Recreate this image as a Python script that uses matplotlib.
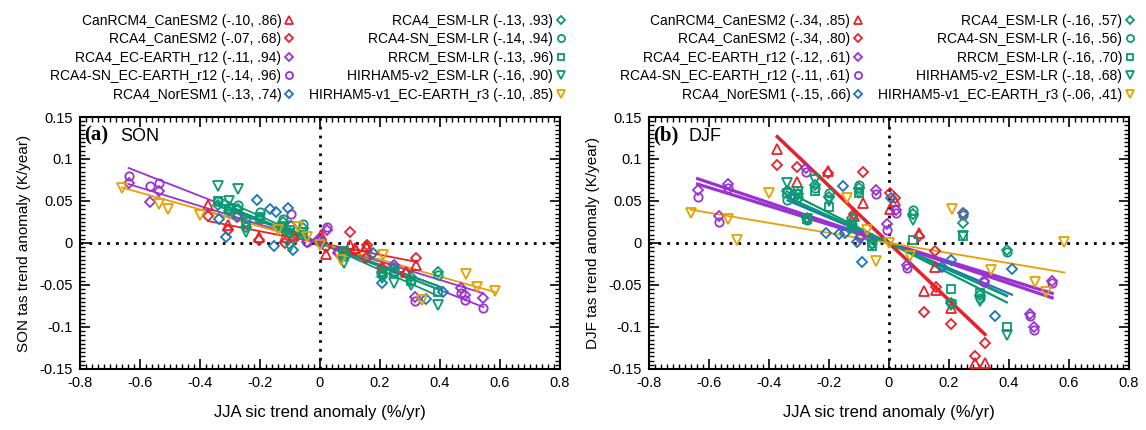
import numpy as np
import matplotlib.pyplot as plt
from matplotlib.lines import Line2D
from matplotlib.ticker import MultipleLocator, FormatStrFormatter

plt.rcParams['font.family'] = ['Liberation Sans', 'DejaVu Sans']

# JJA sic trend anomaly (%/yr), one set per driving GCM
x_canesm2 = [-0.372, -0.305, -0.203, -0.117, -0.088, 0.003, 0.02, 0.10, 0.117, 0.152, 0.158, 0.207, 0.288, 0.32]
x_ecearth_r12 = [-0.638, -0.565, -0.535, -0.276, -0.095, -0.042, -0.008, 0.024, 0.06, 0.246, 0.318, 0.47, 0.482, 0.544]
x_noresm1 = [-0.338, -0.314, -0.211, -0.168, -0.152, -0.145, -0.107, -0.09, 0.007, 0.176, 0.207, 0.355, 0.41]
x_esmlr = [-0.341, -0.302, -0.274, -0.248, -0.2, -0.124, -0.099, -0.057, 0.08, 0.206, 0.246, 0.305, 0.393]
x_ecearth_r3 = [-0.661, -0.535, -0.507, -0.4, -0.139, -0.072, -0.042, -0.001, 0.071, 0.211, 0.34, 0.487, 0.522, 0.585]

# SON tas trend anomaly (K/year)
son_canrcm4_canesm2 = [0.045, 0.021, 0.0075, 0.0075, 0.01, 0.0095, -0.0135, -0.0024, -0.006, -0.004, -0.003, -0.035, -0.034, -0.026]
son_rca4_canesm2 = [0.032, 0.016, 0.003, 0.0, 0.005, 0.004, -0.005, 0.0135, -0.01, -0.018, -0.002, -0.03, -0.036, -0.018]
son_rca4_ecearth = [0.071, 0.049, 0.062, 0.031, 0.02, 0.0015, 0.004, 0.015, -0.012, -0.026, -0.064, -0.054, -0.062, -0.066]
son_rca4sn_ecearth = [0.080, 0.068, 0.072, 0.035, 0.035, 0.001, 0.002, 0.019, -0.010, -0.030, -0.069, -0.060, -0.068, -0.077]
son_rca4_noresm1 = [0.029, 0.0068, 0.051, 0.040, -0.004, 0.037, 0.042, -0.008, -0.0004, -0.0115, -0.048, -0.067, -0.058]
son_rca4_esmlr = [0.045, 0.038, 0.040, 0.019, 0.030, 0.025, 0.012, 0.018, -0.012, -0.034, -0.030, -0.040, -0.034]
son_rca4sn_esmlr = [0.050, 0.042, 0.045, 0.030, 0.037, 0.028, 0.021, 0.0226, -0.015, -0.038, -0.033, -0.045, -0.038]
son_rrcm_esmlr = [0.050, 0.040, 0.035, 0.025, 0.028, 0.020, 0.015, 0.010, -0.010, -0.034, -0.035, -0.045, -0.058]
son_hirham5v2_esmlr = [0.068, 0.050, 0.064, 0.0135, 0.030, 0.015, -0.005, 0.012, -0.024, -0.042, -0.048, -0.050, -0.074]
son_hirham5v1_ecearth = [0.065, 0.047, 0.041, 0.033, 0.016, 0.019, 0.0075, -0.0024, -0.020, -0.014, -0.068, -0.037, -0.052, -0.057]

# DJF tas trend anomaly (K/year)
djf_canrcm4_canesm2 = [0.112, 0.073, 0.086, 0.032, 0.048, 0.041, 0.05, 0.012, -0.057, -0.029, -0.056, -0.077, -0.143, -0.143]
djf_rca4_canesm2 = [0.093, 0.091, 0.083, 0.035, 0.084, 0.06, 0.053, 0.008, -0.082, -0.010, -0.052, -0.096, -0.135, -0.119]
djf_rca4_ecearth = [0.063, 0.0325, 0.070, 0.089, 0.0056, 0.063, 0.023, 0.039, -0.026, 0.036, -0.045, -0.085, -0.100, -0.045]
djf_rca4sn_ecearth = [0.055, 0.0246, 0.066, 0.085, 0.010, 0.058, 0.015, 0.036, -0.030, 0.033, -0.047, -0.087, -0.104, -0.048]
djf_rca4_noresm1 = [0.062, 0.055, 0.012, 0.011, 0.068, 0.012, 0.0016, -0.023, 0.053, -0.028, -0.020, -0.087, -0.031]
djf_rca4_esmlr = [0.062, 0.058, 0.030, 0.069, 0.055, 0.030, 0.065, 0.005, 0.034, -0.072, 0.024, -0.062, -0.008]
djf_rca4sn_esmlr = [0.051, 0.055, 0.027, 0.066, 0.059, 0.022, 0.069, 0.000, 0.039, -0.072, 0.036, -0.065, -0.011]
djf_rrcm_esmlr = [0.060, 0.058, 0.028, 0.062, 0.043, 0.018, 0.060, -0.003, 0.003, -0.055, 0.008, -0.060, -0.100]
djf_hirham5v2_esmlr = [0.071, 0.061, 0.029, 0.075, 0.050, 0.021, 0.059, -0.002, 0.027, -0.074, 0.008, -0.069, -0.110]
djf_hirham5v1_ecearth = [0.036, 0.028, 0.003, 0.059, 0.053, 0.016, -0.022, 0.0, -0.016, 0.040, -0.032, -0.046, -0.058, 0.0016]

names = ['CanRCM4_CanESM2', 'RCA4_CanESM2', 'RCA4_EC-EARTH_r12', 'RCA4-SN_EC-EARTH_r12', 'RCA4_NorESM1',
         'RCA4_ESM-LR', 'RCA4-SN_ESM-LR', 'RRCM_ESM-LR', 'HIRHAM5-v2_ESM-LR', 'HIRHAM5-v1_EC-EARTH_r3']
xs = [x_canesm2, x_canesm2, x_ecearth_r12, x_ecearth_r12, x_noresm1,
      x_esmlr, x_esmlr, x_esmlr, x_esmlr, x_ecearth_r3]
son_y = [son_canrcm4_canesm2, son_rca4_canesm2, son_rca4_ecearth, son_rca4sn_ecearth, son_rca4_noresm1,
         son_rca4_esmlr, son_rca4sn_esmlr, son_rrcm_esmlr, son_hirham5v2_esmlr, son_hirham5v1_ecearth]
djf_y = [djf_canrcm4_canesm2, djf_rca4_canesm2, djf_rca4_ecearth, djf_rca4sn_ecearth, djf_rca4_noresm1,
         djf_rca4_esmlr, djf_rca4sn_esmlr, djf_rrcm_esmlr, djf_hirham5v2_esmlr, djf_hirham5v1_ecearth]
# regression slope and correlation, as in the legend
son_slope = [-0.10, -0.07, -0.11, -0.14, -0.13, -0.13, -0.14, -0.13, -0.16, -0.10]
son_r = [0.86, 0.68, 0.94, 0.96, 0.74, 0.93, 0.94, 0.96, 0.90, 0.85]
djf_slope = [-0.34, -0.34, -0.12, -0.11, -0.15, -0.16, -0.16, -0.16, -0.18, -0.06]
djf_r = [0.85, 0.80, 0.61, 0.61, 0.66, 0.57, 0.56, 0.70, 0.68, 0.41]

red = '#e8222a'
purple = '#9a32d2'
blue = '#1a74bf'
green = '#0a9a72'
orange = '#e8a000'
colors = [red, red, purple, purple, blue, green, green, green, green, orange]
markers = ['^', 'D', 'D', 'o', 'D', 'D', 'o', 's', 'v', 'v']
msizes = [7, 4.6, 4.6, 6, 4.6, 4.6, 6, 5.6, 7, 7]
son_lw = [1.3] * 10
djf_lw = [2.3, 2.3, 2.3, 2.3, 1.6, 1.6, 1.6, 1.6, 1.6, 1.3]


def short(v):
    return ('%.2f' % v).replace('0.', '.', 1)


def panel(ax, ys, slopes, rs, lws, tag, season):
    for i in range(len(names)):
        x = np.array(xs[i])
        xl = np.array([x.min(), x.max()])
        ax.plot(xl, slopes[i] * xl, color=colors[i], lw=lws[i], zorder=2)
    for i in range(len(names)):
        ax.plot(xs[i], ys[i], linestyle='none', marker=markers[i], ms=msizes[i],
                mfc='none', mec=colors[i], mew=1.3, zorder=3)
    ax.axhline(0, color='k', lw=2, ls=(0, (1, 2.2)), zorder=1)
    ax.axvline(0, color='k', lw=2, ls=(0, (1, 2.2)), zorder=1)
    ax.set_xlim(-0.8, 0.8)
    ax.set_ylim(-0.15, 0.15)
    ax.xaxis.set_major_locator(MultipleLocator(0.2))
    ax.xaxis.set_minor_locator(MultipleLocator(0.02))
    ax.yaxis.set_major_locator(MultipleLocator(0.05))
    ax.yaxis.set_minor_locator(MultipleLocator(0.005))
    ax.xaxis.set_major_formatter(FormatStrFormatter('%g'))
    ax.yaxis.set_major_formatter(FormatStrFormatter('%g'))
    ax.tick_params(which='both', direction='in', top=True, right=True, labelsize=10.5)
    ax.tick_params(which='major', length=7, width=1.2, pad=5)
    ax.tick_params(which='minor', length=3.5, width=1)
    for s in ax.spines.values():
        s.set_linewidth(1.5)
    ax.set_xlabel('JJA sic trend anomaly (%/yr)', fontsize=12, labelpad=11)
    ax.set_ylabel(season + ' tas trend anomaly (K/year)', fontsize=11, labelpad=6)
    ax.text(0.008, 0.905, tag, transform=ax.transAxes, fontsize=15, fontweight='bold',
            family=['Liberation Serif', 'DejaVu Serif'], va='baseline')
    ax.text(0.083, 0.905, season, transform=ax.transAxes, fontsize=13, va='baseline')

    handles = [Line2D([], [], linestyle='none', marker=markers[i], ms=msizes[i] * 0.85,
                      mfc='none', mec=colors[i], mew=1.3) for i in range(len(names))]
    labels = ['%s (%s, %s)' % (names[i], short(slopes[i]), short(rs[i])) for i in range(len(names))]
    ax.legend(handles, labels, ncol=2, markerfirst=False, loc='lower right',
              bbox_to_anchor=(1.012, 1.06), frameon=False, fontsize=10,
              handlelength=0.7, handletextpad=0.2, columnspacing=1.1,
              labelspacing=0.33, borderaxespad=0, borderpad=0)


fig = plt.figure(figsize=(11.46, 4.30), dpi=100)
ax1 = fig.add_axes([0.0698, 0.1419, 0.4188, 0.5860])
ax2 = fig.add_axes([0.5663, 0.1419, 0.4188, 0.5860])

panel(ax1, son_y, son_slope, son_r, son_lw, '(a)', 'SON')
panel(ax2, djf_y, djf_slope, djf_r, djf_lw, '(b)', 'DJF')

fig.savefig('out.png', dpi=100)
